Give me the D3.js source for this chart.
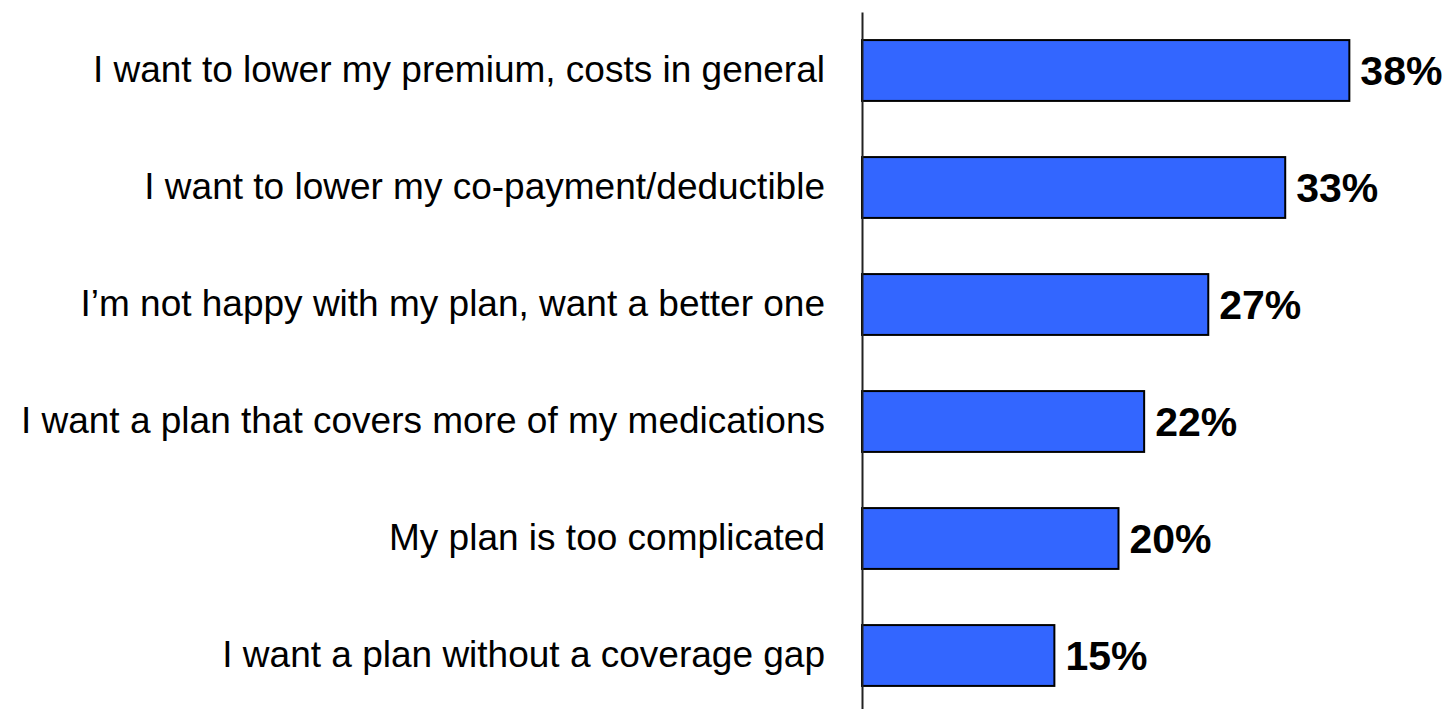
<!DOCTYPE html>
<html>
<head>
<meta charset="utf-8">
<script src="https://cdn.jsdelivr.net/npm/d3@7"></script>
<style>
  body { margin: 0; background: #fff; }
  svg { display: block; }
  text { font-family: Arial, "Liberation Sans", sans-serif; }
</style>
</head>
<body>
<div id="chart"></div>
<script>
const width = 1455;
const height = 709;

// data
const reasons = [
  "I want to lower my premium, costs in general",
  "I want to lower my co-payment/deductible",
  "I\u2019m not happy with my plan, want a better one",
  "I want a plan that covers more of my medications",
  "My plan is too complicated",
  "I want a plan without a coverage gap"
];
const shares = [38, 33, 27, 22, 20, 15];

const svg = d3.select("#chart")
  .append("svg")
  .attr("width", width)
  .attr("height", height);

const axisX = 862;

const y = d3.scaleBand()
  .domain(reasons)
  .range([12, 714])
  .paddingInner(0.48)
  .paddingOuter(0.24);

const x = d3.scaleLinear()
  .domain([0, 40])
  .range([axisX, axisX + 513]);

// bars
svg.selectAll(".bar")
  .data(reasons)
  .enter()
  .append("rect")
  .attr("class", "bar")
  .attr("x", x(0))
  .attr("y", d => y(d))
  .attr("width", (d, i) => x(shares[i]) - x(0))
  .attr("height", y.bandwidth())
  .style("fill", "#3366ff")
  .style("stroke", "#000")
  .style("stroke-width", 2);

// category axis (vertical line + labels)
const yAxis = d3.axisLeft(y)
  .tickSize(0)
  .tickSizeOuter(0)
  .tickPadding(37);

const gAxis = svg.append("g")
  .attr("transform", "translate(" + axisX + ",0)")
  .call(yAxis);

gAxis.select(".domain")
  .style("stroke", "#222")
  .style("stroke-width", 2);

gAxis.selectAll("text")
  .style("font-family", "Arial, 'Liberation Sans', sans-serif")
  .style("font-size", "37px")
  .style("fill", "#000");

// value labels
svg.selectAll(".value")
  .data(reasons)
  .enter()
  .append("text")
  .attr("class", "value")
  .attr("x", (d, i) => x(shares[i]) + 11)
  .attr("y", d => y(d) + y.bandwidth() / 2)
  .attr("dy", "0.36em")
  .style("font-size", "41px")
  .style("font-weight", "bold")
  .text((d, i) => shares[i] + "%");
</script>
</body>
</html>
